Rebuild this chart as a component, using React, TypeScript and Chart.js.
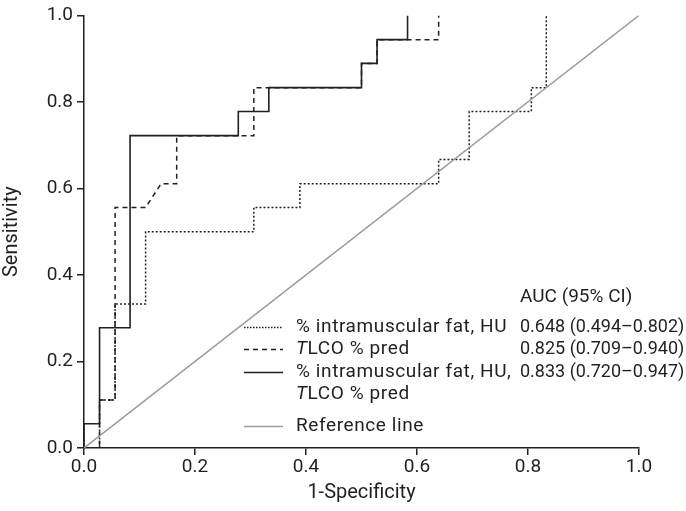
import React, { useEffect, useRef } from "react";
import { Chart, registerables } from "chart.js";

Chart.register(...registerables);

// ---- data ----
const fatFpr = [0, 0.028, 0.028, 0.056, 0.056, 0.111, 0.111, 0.306, 0.306, 0.389, 0.389, 0.639, 0.639, 0.694, 0.694, 0.806, 0.806, 0.833, 0.833];
const fatTpr = [0, 0, 0.111, 0.111, 0.333, 0.333, 0.5, 0.5, 0.556, 0.556, 0.611, 0.611, 0.667, 0.667, 0.778, 0.778, 0.833, 0.833, 1.0];

const tlcoFpr = [0, 0.028, 0.028, 0.056, 0.056, 0.111, 0.139, 0.167, 0.167, 0.306, 0.306, 0.5, 0.5, 0.528, 0.528, 0.639, 0.639];
const tlcoTpr = [0, 0, 0.111, 0.111, 0.556, 0.556, 0.611, 0.611, 0.722, 0.722, 0.833, 0.833, 0.889, 0.889, 0.944, 0.944, 1.0];

const combFpr = [0, 0, 0.028, 0.028, 0.083, 0.083, 0.278, 0.278, 0.333, 0.333, 0.5, 0.5, 0.528, 0.528, 0.583, 0.583];
const combTpr = [0, 0.056, 0.056, 0.278, 0.278, 0.722, 0.722, 0.778, 0.778, 0.833, 0.833, 0.889, 0.889, 0.944, 0.944, 1.0];

const refFpr = [0, 1];
const refTpr = [0, 1];

const seriesLabels = [
  "% intramuscular fat, HU",
  "TLCO % pred",
  "% intramuscular fat, HU,\nTLCO % pred",
  "Reference line",
];
const aucLabels = ["0.648 (0.494\u20130.802)", "0.825 (0.709\u20130.940)", "0.833 (0.720\u20130.947)", ""];
const aucHeader = "AUC (95% CI)";
const xTitle = "1-Specificity";
const yTitle = "Sensitivity";

// ---- styles ----
const INK = "#231f20";
const GREY = "#9a9a9a";
const FONT = "Roboto";
const dashes = [[2, 2], [5, 4], [], []];
const colors = [INK, INK, INK, GREY];
const widths = [1.5, 1.5, 1.6, 1.5];

const toPts = (xs: number[], ys: number[]) => xs.map((x, i) => ({ x, y: ys[i] }));

const tablePlugin = {
  id: "aucTable",
  afterDraw(chart: any) {
    const ctx = chart.ctx as any;
    ctx.save();
    ctx.fillStyle = INK;
    ctx.textBaseline = "middle";
    ctx.textAlign = "left";
    const fs = 19;
    const sampleX0 = 244, sampleX1 = 283, labelX = 296, numX = 520;
    const rowY = [327, 349, 372, 426];
    const lineGap = 22;

    // header
    ctx.font = `${fs}px ${FONT}`;
    ctx.fillText(aucHeader, numX, 297);

    seriesLabels.forEach((lab, i) => {
      const y = rowY[i];
      // sample line
      ctx.save();
      ctx.strokeStyle = colors[i];
      ctx.lineWidth = widths[i];
      ctx.setLineDash(i === 0 ? [1.5, 1.5] : dashes[i]);
      ctx.beginPath();
      ctx.moveTo(sampleX0, y + 0.5);
      ctx.lineTo(sampleX1, y + 0.5);
      ctx.stroke();
      ctx.restore();
      // label lines
      ctx.save();
      ctx.letterSpacing = "0.6px";
      lab.split("\n").forEach((line, j) => {
        const ly = y + j * lineGap;
        let x = labelX;
        if (line.startsWith("TLCO")) {
          ctx.font = `italic ${fs}px ${FONT}`;
          ctx.fillText("T", x, ly);
          x += ctx.measureText("T").width;
          ctx.font = `${fs}px ${FONT}`;
          ctx.fillText(line.slice(1), x, ly);
        } else {
          ctx.font = `${fs}px ${FONT}`;
          ctx.fillText(line, x, ly);
        }
      });
      ctx.restore();
      if (aucLabels[i]) {
        ctx.font = `18px ${FONT}`;
        ctx.fillText(aucLabels[i], numX, y);
      }
    });
    ctx.restore();
  },
};

export default function App() {
  const ref = useRef<HTMLCanvasElement | null>(null);
  useEffect(() => {
    if (!ref.current) return;
    const ds = [
      [refFpr, refTpr],
      [fatFpr, fatTpr],
      [tlcoFpr, tlcoTpr],
      [combFpr, combTpr],
    ];
    const styleIdx = [3, 0, 1, 2];
    const chart = new Chart(ref.current, {
      type: "scatter",
      data: {
        datasets: ds.map(([xs, ys], k) => {
          const s = styleIdx[k];
          return {
            label: seriesLabels[s],
            data: toPts(xs, ys),
            showLine: true,
            borderColor: colors[s],
            borderWidth: widths[s],
            borderDash: dashes[s],
            pointRadius: 0,
            fill: false,
            tension: 0,
          } as any;
        }),
      },
      options: {
        animation: false,
        responsive: false,
        devicePixelRatio: 1,
        layout: { padding: { left: 0, top: 12, right: 47, bottom: 0 } },
        plugins: { legend: { display: false }, tooltip: { enabled: false } },
        scales: {
          x: {
            type: "linear",
            min: 0,
            max: 1,
            afterFit: (s: any) => { s.height = 63; },
            ticks: {
              stepSize: 0.2,
              color: INK,
              font: { family: FONT, size: 19 },
              padding: 1,
              maxRotation: 0,
              callback: (v: any) => Number(v).toFixed(1),
            },
            grid: { drawOnChartArea: false, drawTicks: true, tickLength: 7, color: INK, lineWidth: 1.5 },
            border: { display: true, color: INK, width: 1.5 },
            title: { display: true, text: xTitle, color: INK, font: { family: FONT, size: 20 }, padding: { top: 0, bottom: 6 } },
          },
          y: {
            type: "linear",
            min: 0,
            max: 1,
            afterFit: (s: any) => { s.width = 84; },
            ticks: {
              stepSize: 0.2,
              color: INK,
              font: { family: FONT, size: 19 },
              padding: 4,
              callback: (v: any) => Number(v).toFixed(1),
            },
            grid: { drawOnChartArea: false, drawTicks: true, tickLength: 7, color: INK, lineWidth: 1.5 },
            border: { display: true, color: INK, width: 1.5 },
            title: { display: true, text: yTitle, color: INK, font: { family: FONT, size: 20 }, padding: { top: 0, bottom: 0 } },
          },
        },
      },
      plugins: [tablePlugin],
    });
    return () => chart.destroy();
  }, []);
  return (
    <div style={{ position: "absolute", left: 0, top: 0, width: 686, height: 511, background: "#fff" }}>
      <canvas ref={ref} width={686} height={511} style={{ display: "block" }} />
    </div>
  );
}
